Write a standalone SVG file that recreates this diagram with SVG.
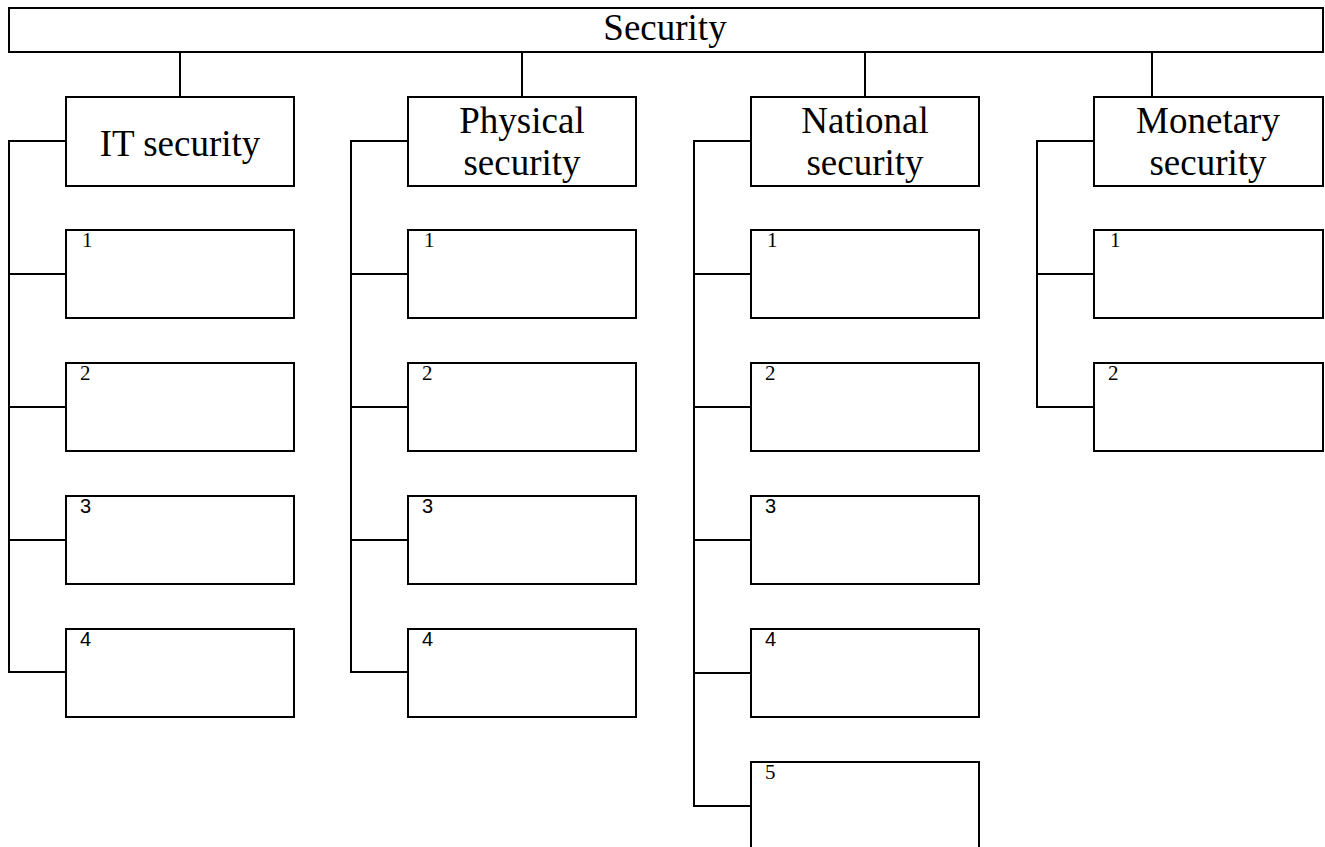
<svg xmlns="http://www.w3.org/2000/svg" width="1325" height="847" viewBox="0 0 1325 847">
<style>
.box{fill:#fff;stroke:#000;stroke-width:2}
.ln{fill:none;stroke:#000;stroke-width:2}
.t{font-size:37px;fill:#000;text-anchor:middle}
.n{font-size:21px;fill:#000}
.ns{font-size:20px;fill:#000}
</style>
<rect width="1325" height="847" fill="#fff"/>
<g id="connectors" class="ln">
<path d="M180 52V97M522 52V97M865 52V97M1152 52V97"/>
<path d="M66 141H9V672H66M9 274H66M9 407H66M9 540H66"/>
<path d="M408 141H351V672H408M351 274H408M351 407H408M351 540H408"/>
<path d="M751 141H694V806H751M694 274H751M694 407H751M694 540H751M694 673H751"/>
<path d="M1094 141H1037V407H1094M1037 274H1094"/>
</g>
<g font-family="Liberation Serif, Tinos, Times New Roman, DejaVu Serif, serif">
<g id="security"><rect class="box" x="9" y="8" width="1314" height="44"/><text class="t" x="665" y="40">Security</text></g>
<g id="it"><rect class="box" x="66" y="97" width="228" height="89"/><text class="t" x="180" y="156">IT security</text></g>
<g id="physical"><rect class="box" x="408" y="97" width="228" height="89"/><text class="t" x="522" y="133">Physical</text><text class="t" x="522" y="175">security</text></g>
<g id="national"><rect class="box" x="751" y="97" width="228" height="89"/><text class="t" x="865" y="133">National</text><text class="t" x="865" y="175">security</text></g>
<g id="monetary"><rect class="box" x="1094" y="97" width="229" height="89"/><text class="t" x="1208" y="133">Monetary</text><text class="t" x="1208" y="175">security</text></g>
<g id="it1"><rect class="box" x="66" y="230" width="228" height="88"/><text class="n" x="82" y="247">1</text></g>
<g id="it2"><rect class="box" x="66" y="363" width="228" height="88"/><text class="n" x="80" y="380">2</text></g>
<g id="it3"><rect class="box" x="66" y="496" width="228" height="88"/><text class="ns" font-family="Liberation Sans, Arial, sans-serif" x="80" y="513">3</text></g>
<g id="it4"><rect class="box" x="66" y="629" width="228" height="88"/><text class="ns" font-family="Liberation Sans, Arial, sans-serif" x="80" y="646">4</text></g>
<g id="ph1"><rect class="box" x="408" y="230" width="228" height="88"/><text class="n" x="424" y="247">1</text></g>
<g id="ph2"><rect class="box" x="408" y="363" width="228" height="88"/><text class="n" x="422" y="380">2</text></g>
<g id="ph3"><rect class="box" x="408" y="496" width="228" height="88"/><text class="ns" font-family="Liberation Sans, Arial, sans-serif" x="422" y="513">3</text></g>
<g id="ph4"><rect class="box" x="408" y="629" width="228" height="88"/><text class="ns" font-family="Liberation Sans, Arial, sans-serif" x="422" y="646">4</text></g>
<g id="na1"><rect class="box" x="751" y="230" width="228" height="88"/><text class="n" x="767" y="247">1</text></g>
<g id="na2"><rect class="box" x="751" y="363" width="228" height="88"/><text class="n" x="765" y="380">2</text></g>
<g id="na3"><rect class="box" x="751" y="496" width="228" height="88"/><text class="ns" font-family="Liberation Sans, Arial, sans-serif" x="765" y="513">3</text></g>
<g id="na4"><rect class="box" x="751" y="629" width="228" height="88"/><text class="ns" font-family="Liberation Sans, Arial, sans-serif" x="765" y="646">4</text></g>
<g id="na5"><rect class="box" x="751" y="762" width="228" height="88"/><text class="n" x="765" y="779">5</text></g>
<g id="mo1"><rect class="box" x="1094" y="230" width="229" height="88"/><text class="n" x="1110" y="247">1</text></g>
<g id="mo2"><rect class="box" x="1094" y="363" width="229" height="88"/><text class="n" x="1108" y="380">2</text></g>
</g>
</svg>
